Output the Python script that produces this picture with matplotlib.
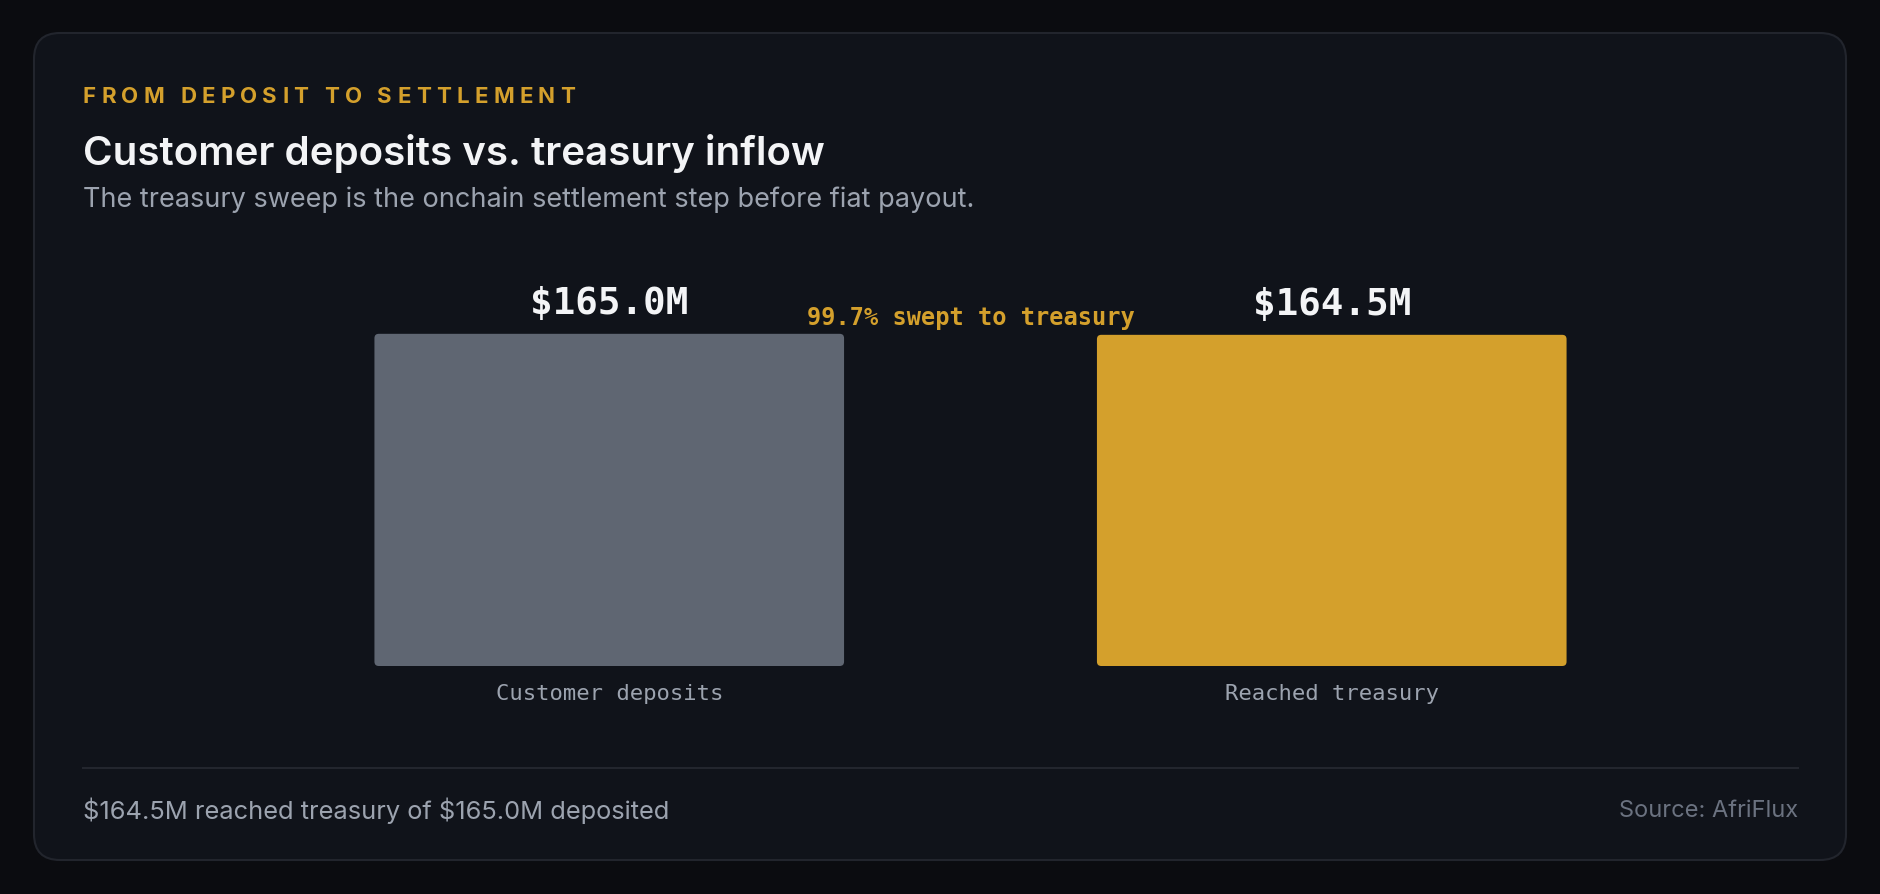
import numpy as np
import matplotlib as mpl
from matplotlib import pyplot as plt
from matplotlib.patches import FancyBboxPatch

mpl.rcParams['font.family'] = ['Inter', 'DejaVu Sans']
mpl.rcParams['text.parse_math'] = False  # plain dollar signs

categories = ["Customer deposits", "Reached treasury"]
values = [165.0, 164.5]  # $M
bar_colors = ["#5f6672", "#d4a02c"]

eyebrow = "FROM DEPOSIT TO SETTLEMENT"
title = "Customer deposits vs. treasury inflow"
subtitle = "The treasury sweep is the onchain settlement step before fiat payout."
source = "Source: AfriFlux"

GOLD = "#d4a02c"
MUTED = "#9ca3af"
MONO = "DejaVu Sans Mono"

W, H = 1880, 895
fig = plt.figure(figsize=(W / 100, H / 100), dpi=100, facecolor="#0b0c10")

# background / card, in pixel units
bg = fig.add_axes([0, 0, 1, 1])
bg.set_xlim(0, W)
bg.set_ylim(H, 0)
bg.axis("off")
bg.add_patch(FancyBboxPatch((34, 34), 1812, 827, boxstyle="round,pad=0,rounding_size=26",
                            fc="#10131a", ec="#22252d", lw=1.5))
bg.plot([83, 1798], [769, 769], color="#23262e", lw=1.5)

renderer = fig.canvas.get_renderer()


def text_w(s, **kw):
    t = bg.text(0, 0, s, **kw)
    w = t.get_window_extent(renderer).width
    t.remove()
    return w


def spaced_text(x, y, s, tracking, **kw):
    base = text_w("XX", **kw)
    for ch in s:
        bg.text(x, y, ch, ha="left", va="center", **kw)
        x += text_w("X" + ch + "X", **kw) - base + tracking


spaced_text(83, 97, eyebrow, 5.25, fontsize=16, fontweight="bold", color=GOLD)
bg.text(83, 165, title, fontsize=29, fontweight="semibold", color="#f3f4f6", va="baseline")
bg.text(83, 200, subtitle, fontsize=19.5, color=MUTED, va="center")
bg.text(83, 811, "$%.1fM reached treasury of $%.1fM deposited" % (values[1], values[0]),
        fontsize=18.3, color=MUTED, va="center")
bg.text(1798, 811, source, fontsize=17, color="#6b7280", va="center", ha="right")

# chart
ax = fig.add_axes([248 / W, (H - 667) / H, 1445 / W, 365.4 / H])
ax.patch.set_alpha(0)
x = np.arange(len(categories))
bars = ax.bar(x, values, width=0.65, color=bar_colors)
ax.set_xlim(-0.5, 1.5)
ax.set_ylim(0, max(values) * 1.1)

# swap the square bars for slightly rounded ones
aspect = (1445 / 2) / (365.4 / (max(values) * 1.1))
for b in bars:
    b.set_visible(False)
    ax.add_patch(FancyBboxPatch((b.get_x(), b.get_y()), b.get_width(), b.get_height(),
                                boxstyle="round,pad=0,rounding_size=0.006",
                                mutation_aspect=aspect, fc=b.get_facecolor(), ec="none"))

for xi, v in zip(x, values):
    ax.annotate("$%.1fM" % v, (xi, v), xytext=(0, 9.5), textcoords="offset points",
                ha="center", va="bottom", fontsize=27, fontweight="bold",
                family=MONO, color="#f3f4f6")

share = values[1] / values[0] * 100
ax.text(0.5, 173.5, "%.1f%% swept to treasury" % share, ha="center", va="center",
        fontsize=17, fontweight="bold", family=MONO, color=GOLD)

ax.set_xticks(x)
ax.set_xticklabels(categories, family=MONO, fontsize=16, color=MUTED)
ax.tick_params(axis="x", length=0, pad=12.5)
ax.set_yticks([])
for s in ax.spines.values():
    s.set_visible(False)

fig.savefig("out.png", dpi=100, facecolor=fig.get_facecolor())
